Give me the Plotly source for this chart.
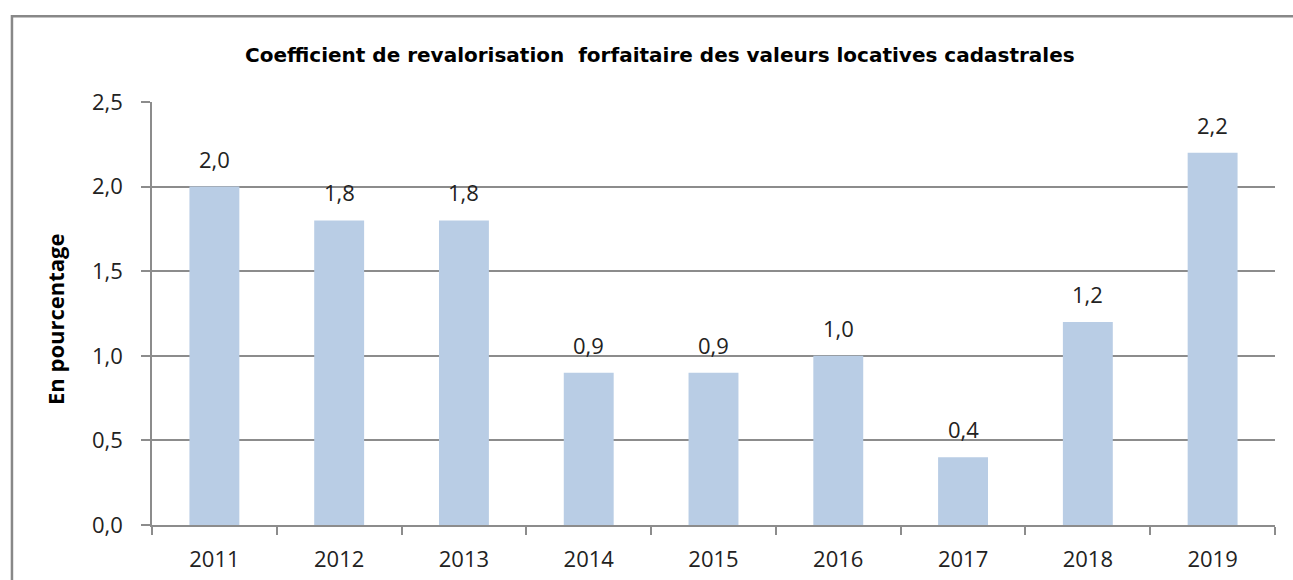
import plotly.graph_objects as go

years = ["2011", "2012", "2013", "2014", "2015", "2016", "2017", "2018", "2019"]
values = [2.0, 1.8, 1.8, 0.9, 0.9, 1.0, 0.4, 1.2, 2.2]
y_ticks = [0.0, 0.5, 1.0, 1.5, 2.0, 2.5]
title = "Coefficient de revalorisation  forfaitaire des valeurs locatives cadastrales"
y_title = "En pourcentage"

FONT = "Open Sans, sans-serif"
GRID = "#8c8c8c"
TXT = "#222222"

fig = go.Figure()
fig.add_trace(go.Bar(
    x=years, y=values,
    marker=dict(color="#b9cde5", line=dict(width=0)),
    width=0.4,
    hoverinfo="skip",
))

for i, v in enumerate(values):
    fig.add_annotation(
        x=i, y=v, text=f"{v:.1f}".replace(".", ","),
        showarrow=False, yshift=28,
        font=dict(family=FONT, size=22, color=TXT),
    )

fig.add_annotation(
    xref="paper", yref="paper", x=0.452, y=1.111,
    xanchor="center", yanchor="middle", text=f"<b>{title}</b>",
    showarrow=False, font=dict(family="DejaVu Sans, sans-serif", size=20, color="#000000"),
)
fig.add_annotation(
    xref="paper", yref="paper", x=-0.0864, y=0.487,
    xanchor="center", yanchor="middle", text=f"<b>{y_title}</b>",
    textangle=-90, showarrow=False, font=dict(family=FONT, size=22, color="#000000"),
)

fig.add_shape(
    type="rect", xref="paper", yref="paper",
    x0=-0.1247, x1=1.05, y0=-0.3, y1=1.203,
    line=dict(color="#888888", width=2.5), layer="above",
)

fig.update_layout(
    width=1293, height=580,
    margin=dict(l=152, r=18, t=102, b=55, autoexpand=False),
    paper_bgcolor="white", plot_bgcolor="white",
    showlegend=False,
    separators=", ",
    font=dict(family=FONT, size=22, color=TXT),
    xaxis=dict(
        type="category",
        range=[-0.5, len(years) - 0.5],
        showline=True, linecolor=GRID, linewidth=1.5,
        ticks="outside", ticklen=8, tickcolor=GRID, tickwidth=1.5,
        tickson="boundaries",
        showgrid=False,
        tickangle=0,
        tickfont=dict(family=FONT, size=22, color=TXT),
        ticklabelstandoff=14,
    ),
    yaxis=dict(
        range=[0, 2.5],
        tickvals=y_ticks,
        ticktext=[f"{t:.1f}".replace(".", ",") for t in y_ticks],
        showline=True, linecolor=GRID, linewidth=1.5,
        ticks="outside", ticklen=9, tickcolor=GRID, tickwidth=1.5,
        showgrid=True, gridcolor=GRID, gridwidth=1.5,
        zeroline=False,
        tickfont=dict(family=FONT, size=22, color=TXT),
        ticklabelstandoff=14,
    ),
)

fig.write_html(
    "out.html",
    config={"displayModeBar": False},
    post_script="document.body.style.margin='0';",
)
